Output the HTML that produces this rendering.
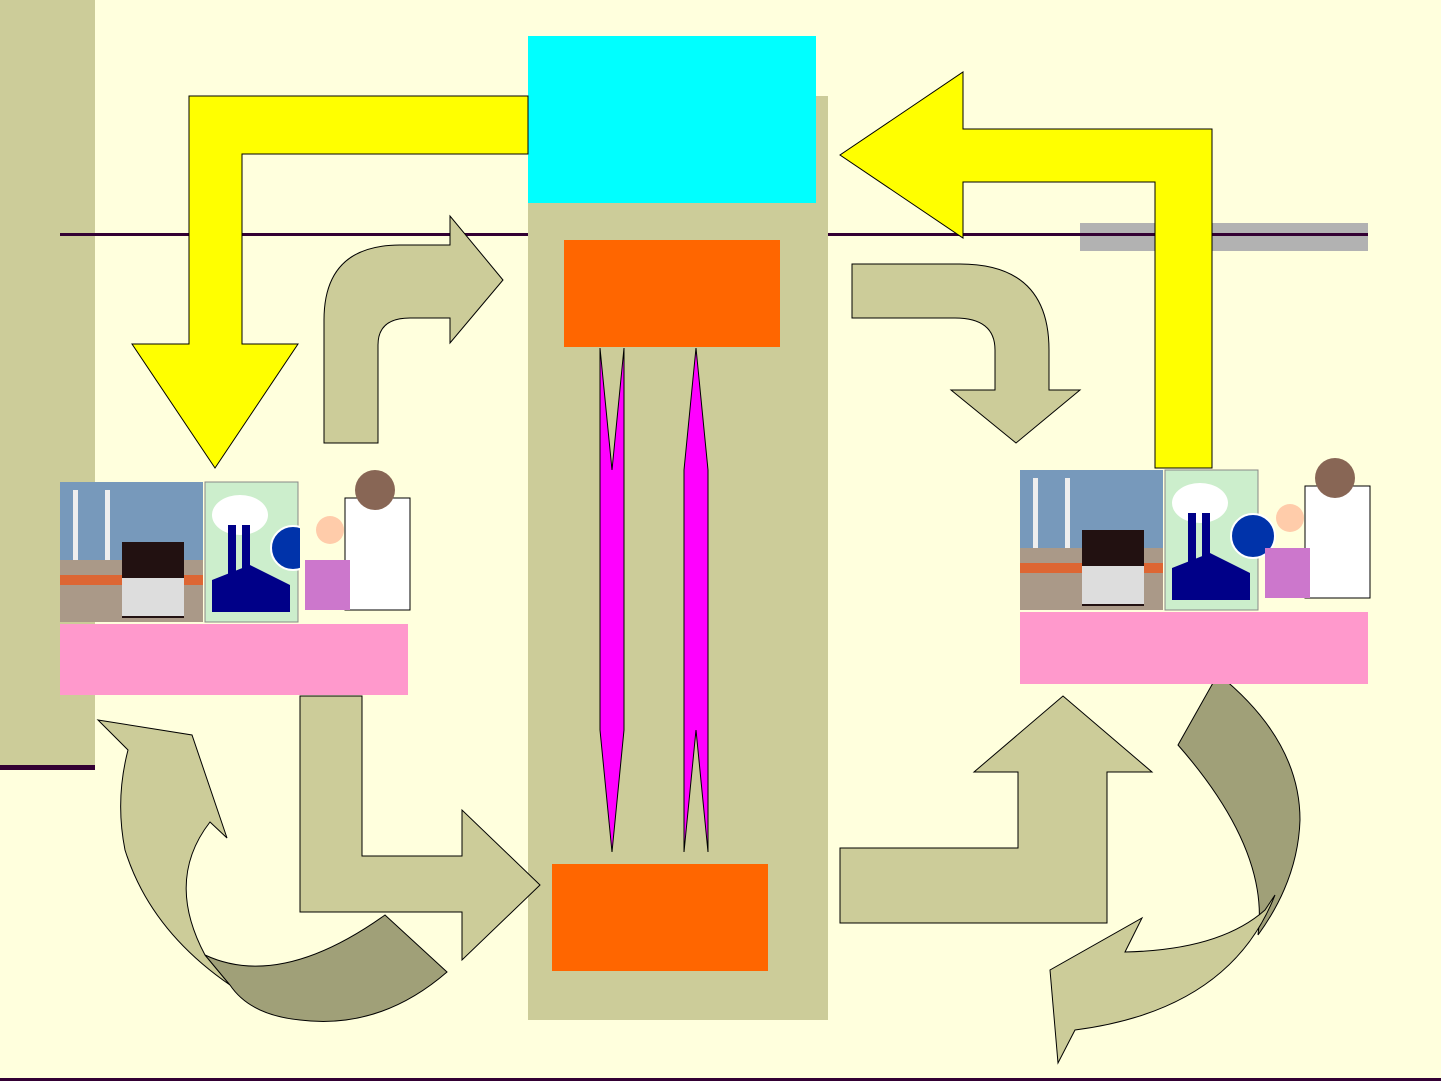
<!DOCTYPE html>
<html><head><meta charset="utf-8"><style>
html,body{margin:0;padding:0;background:#FFFFDD;}
svg{display:block}
</style></head><body>
<svg width="1441" height="1081" viewBox="0 0 1441 1081" xmlns="http://www.w3.org/2000/svg">
<rect width="1441" height="1081" fill="#FFFFDD"/>
<rect x="0" y="0" width="95" height="765" fill="#CCCC99"/>
<rect x="0" y="765" width="95" height="5" fill="#330033"/>
<rect x="60" y="233" width="1308" height="3" fill="#330033"/>
<rect x="1080" y="223" width="288" height="28" fill="#B2B2B2"/>
<rect x="1080" y="233" width="288" height="3" fill="#330033"/>
<rect x="528" y="96" width="300" height="924" fill="#CCCC99"/>
<rect x="528" y="36" width="288" height="167" fill="#00FFFF"/>
<rect x="564" y="240" width="216" height="107" fill="#FF6600"/>
<rect x="552" y="864" width="216" height="107" fill="#FF6600"/>
<g stroke="#000" stroke-width="1">
<polygon fill="#FF00FF" points="600,348 612,470 624,348 624,730 612,852 600,730"/>
<polygon fill="#FF00FF" points="696,348 708,470 708,852 696,730 684,852 684,470"/>
<polygon fill="#FFFF00" points="528,96 189,96 189,344 132,344 215,468 298,344 242,344 242,154 528,154"/>
<polygon fill="#FFFF00" points="1155,468 1212,468 1212,129 963,129 963,72 840,155 963,238 963,182 1155,182"/>
<path fill="#CCCC99" d="M324,443 L324,320 Q324,245 400,245 L450,245 L450,216 L503,280 L450,343 L450,318 L410,318 Q378,318 378,345 L378,443 Z"/>
<path fill="#CCCC99" d="M852,264 L960,264 Q1049,264 1049,350 L1049,390 L1080,390 L1016,443 L951,390 L995,390 L995,350 Q995,318 955,318 L852,318 Z"/>
<polygon fill="#CCCC99" points="300,696 362,696 362,856 462,856 462,810 540,885 462,960 462,912 300,912"/>
<polygon fill="#CCCC99" points="840,848 1018,848 1018,772 974,772 1063,696 1152,772 1107,772 1107,923 840,923"/>
<path fill="#CCCC99" d="M98,720 L192,735 L227,838 L210,822 Q165,880 205,955 L230,985 Q150,930 125,850 Q115,800 128,750 Z"/>
<path fill="#A0A078" d="M205,955 Q280,990 385,915 L447,972 Q380,1030 300,1020 Q250,1015 230,985 Z"/>
<path fill="#A0A078" d="M1178,745 L1218,674 Q1300,740 1300,820 Q1298,880 1258,935 Q1270,850 1178,745 Z"/>
<path fill="#CCCC99" d="M1275,895 Q1230,1010 1075,1030 L1058,1063 L1050,970 L1142,918 L1125,952 Q1220,950 1265,910 Z"/>
</g>
<!-- left clipart -->
<g>
<rect x="60" y="482" width="143" height="140" fill="#7799BB"/>
<rect x="60" y="560" width="143" height="62" fill="#AA9988"/>
<rect x="60" y="575" width="143" height="10" fill="#DD6633"/>
<rect x="122" y="542" width="62" height="76" fill="#221111"/>
<rect x="122" y="578" width="62" height="38" fill="#DDDDDD"/>
<rect x="73" y="490" width="5" height="70" fill="#EEEEEE"/>
<rect x="105" y="490" width="5" height="70" fill="#EEEEEE"/>
<rect x="205" y="482" width="93" height="140" fill="#CCEECC" stroke="#888"/>
<ellipse cx="240" cy="515" rx="28" ry="20" fill="#FFFFFF"/>
<polygon fill="#000088" points="212,612 212,580 250,565 290,585 290,612"/>
<rect x="228" y="525" width="8" height="60" fill="#000088"/>
<rect x="242" y="525" width="8" height="60" fill="#000088"/>
<circle cx="293" cy="548" r="22" fill="#0033AA" stroke="#fff" stroke-width="2"/>
<rect x="300" y="485" width="110" height="125" fill="#FFFFDD"/>
<rect x="345" y="498" width="65" height="112" fill="#FFFFFF" stroke="#000"/>
<circle cx="375" cy="490" r="20" fill="#886655"/>
<circle cx="330" cy="530" r="14" fill="#FFCCAA"/>
<rect x="305" y="560" width="45" height="50" fill="#CC77CC"/>
</g>
<rect x="60" y="624" width="348" height="71" fill="#FF99CC"/>
<!-- right clipart -->
<g>
<rect x="1020" y="470" width="143" height="140" fill="#7799BB"/>
<rect x="1020" y="548" width="143" height="62" fill="#AA9988"/>
<rect x="1020" y="563" width="143" height="10" fill="#DD6633"/>
<rect x="1082" y="530" width="62" height="76" fill="#221111"/>
<rect x="1082" y="566" width="62" height="38" fill="#DDDDDD"/>
<rect x="1033" y="478" width="5" height="70" fill="#EEEEEE"/>
<rect x="1065" y="478" width="5" height="70" fill="#EEEEEE"/>
<rect x="1165" y="470" width="93" height="140" fill="#CCEECC" stroke="#888"/>
<ellipse cx="1200" cy="503" rx="28" ry="20" fill="#FFFFFF"/>
<polygon fill="#000088" points="1172,600 1172,568 1210,553 1250,573 1250,600"/>
<rect x="1188" y="513" width="8" height="60" fill="#000088"/>
<rect x="1202" y="513" width="8" height="60" fill="#000088"/>
<circle cx="1253" cy="536" r="22" fill="#0033AA" stroke="#fff" stroke-width="2"/>
<rect x="1305" y="486" width="65" height="112" fill="#FFFFFF" stroke="#000"/>
<circle cx="1335" cy="478" r="20" fill="#886655"/>
<circle cx="1290" cy="518" r="14" fill="#FFCCAA"/>
<rect x="1265" y="548" width="45" height="50" fill="#CC77CC"/>
</g>
<rect x="1020" y="612" width="348" height="72" fill="#FF99CC"/>
<rect x="0" y="1078" width="1441" height="3" fill="#330033"/>
</svg>
</body></html>
